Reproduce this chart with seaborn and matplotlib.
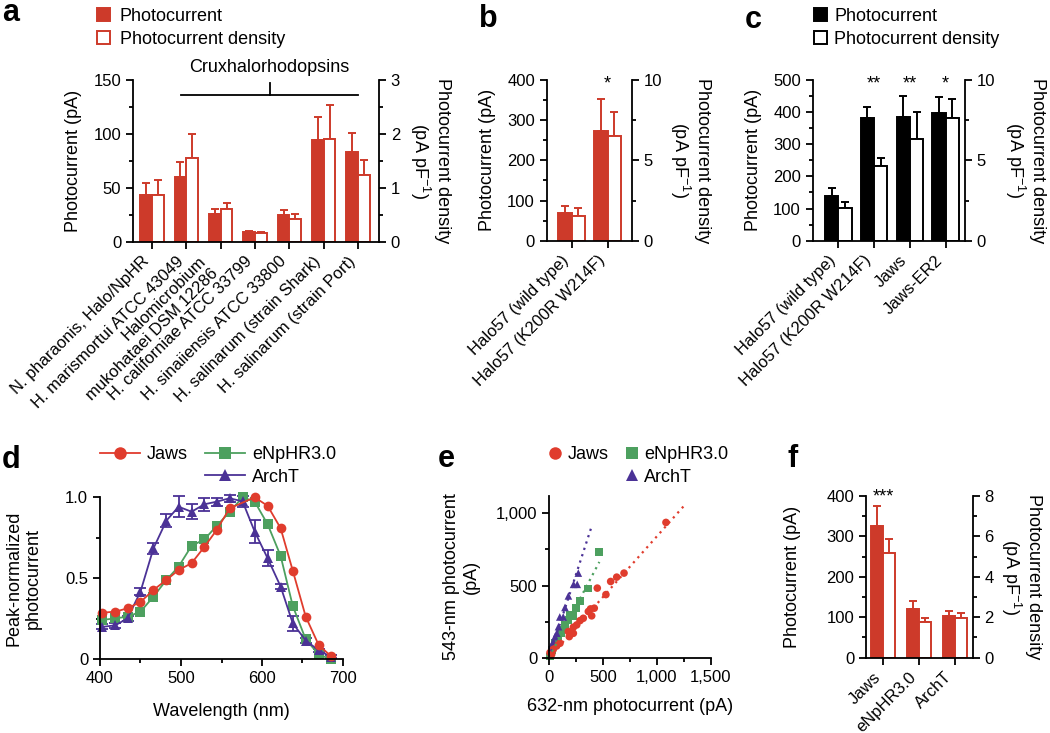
import matplotlib
matplotlib.use("Agg")
import matplotlib.pyplot as plt
from matplotlib.lines import Line2D
from matplotlib.patches import Patch
from matplotlib.ticker import MultipleLocator, FuncFormatter
import numpy as np
import pandas as pd
import seaborn as sns

# ---------------- data ----------------
# a: photocurrent (pA) and photocurrent density (pA/pF), mean and s.e.m.
a_names = ['N. pharaonis, Halo/NpHR', 'H. marismortui ATCC 43049',
           'Halomicrobium\nmukohataei DSM 12286', 'H. californiae ATCC 33799',
           'H. sinaiiensis ATCC 33800', 'H. salinarum (strain Shark)',
           'H. salinarum (strain Port)']
a_current = [43.5, 60, 26, 9.3, 24.7, 94, 83]
a_current_err = [11.5, 14.5, 4.2, 0.7, 4.6, 21.5, 17.5]
a_density = [0.87, 1.55, 0.62, 0.17, 0.42, 1.90, 1.24]
a_density_err = [0.27, 0.45, 0.10, 0.02, 0.10, 0.64, 0.28]
a_bracket = [0.85, 6.0]   # cruxhalorhodopsin group, category units

# b
b_names = ['Halo57 (wild type)', 'Halo57 (K200R W214F)']
b_current = [70, 273]
b_current_err = [17, 79]
b_density = [1.54, 6.5]
b_density_err = [0.49, 1.52]
b_stars = ['', '*']

# c
c_names = ['Halo57 (wild type)', 'Halo57 (K200R W214F)', 'Jaws', 'Jaws-ER2']
c_current = [140, 382, 386, 398]
c_current_err = [25, 33, 63, 50]
c_density = [2.02, 4.66, 6.32, 7.64]
c_density_err = [0.40, 0.50, 1.68, 1.18]
c_stars = ['', '**', '**', '*']

# d: action spectra, peak-normalized (only ArchT error bars stick out of the markers)
d_wavelength = [403, 419, 434, 450, 466, 482, 497, 513, 529, 544, 560, 576, 591, 607, 623, 638, 654, 670, 685]
d_jaws = [0.288, 0.294, 0.315, 0.354, 0.428, 0.49, 0.551, 0.593, 0.695, 0.798, 0.932, np.nan, 1.0, 0.947, 0.809, 0.547, 0.263, 0.088, 0.02]
d_enphr = [0.243, 0.253, 0.263, 0.294, 0.387, 0.49, 0.572, 0.70, 0.741, 0.823, 0.91, 1.0, 0.973, 0.833, 0.638, 0.329, 0.123, 0.03, 0.0]
d_archt = [0.20, 0.21, 0.253, 0.418, 0.685, 0.856, 0.942, 0.911, 0.957, 0.973, 0.994, 0.975, 0.788, 0.623, 0.449, 0.222, 0.116, 0.055, 0.016]
d_archt_err = [0.015, 0.015, 0.015, 0.02, 0.035, 0.04, 0.065, 0.045, 0.04, 0.025, 0.02, 0.035, 0.07, 0.05, 0.015, 0.045, 0.015, 0.01, 0.01]

# e: 543-nm vs 632-nm photocurrent (pA), single cells
e_jaws_632 = [1085, 696, 628, 572, 448, 528, 420, 385, 365, 396, 318, 288, 257, 226, 179, 226, 188, 102, 71, 40, 9, 25]
e_jaws_543 = [937, 586, 558, 528, 482, 437, 343, 338, 320, 290, 273, 257, 227, 211, 181, 169, 146, 100, 81, 58, 35, 23]
e_enphr_632 = [465, 362, 290, 252, 228, 195, 182, 150, 140, 110, 88, 58, 28, 10]
e_enphr_543 = [732, 480, 392, 343, 290, 300, 262, 228, 195, 168, 135, 100, 55, 8]
e_archt_632 = [272, 228, 262, 180, 148, 100, 132, 88, 72, 56, 40, 25, 12]
e_archt_543 = [586, 508, 508, 428, 348, 282, 282, 215, 170, 146, 112, 88, 50]
e_fit_slope = {'Jaws': 0.84, 'eNpHR3.0': 1.42, 'ArchT': 2.3}
e_fit_end = {'Jaws': 1265, 'eNpHR3.0': 467, 'ArchT': 393}

# f
f_names = ['Jaws', 'eNpHR3.0', 'ArchT']
f_current = [326, 120, 103]
f_current_err = [49, 21, 13]
f_density = [5.16, 1.78, 1.94]
f_density_err = [0.70, 0.20, 0.26]
f_stars = ['***', '', '']

# ---------------- style ----------------
RED = '#CD3A2A'
colors = {'Jaws': '#E03C2D', 'eNpHR3.0': '#4DA05F', 'ArchT': '#4B3296'}
markers = {'Jaws': 'o', 'eNpHR3.0': 's', 'ArchT': '^'}

plt.rcParams['font.family'] = ['Liberation Sans', 'DejaVu Sans']
plt.rcParams['mathtext.fontset'] = 'custom'
plt.rcParams['mathtext.rm'] = 'Liberation Sans'
plt.rcParams['mathtext.it'] = 'Liberation Sans:italic'
plt.rcParams['font.size'] = 12
plt.rcParams['axes.labelsize'] = 13
plt.rcParams['xtick.labelsize'] = 12
plt.rcParams['ytick.labelsize'] = 12
plt.rcParams['axes.linewidth'] = 1.3
for k in ['xtick', 'ytick']:
    plt.rcParams[k + '.major.width'] = 1.3
    plt.rcParams[k + '.minor.width'] = 1.3
    plt.rcParams[k + '.major.size'] = 5
    plt.rcParams[k + '.minor.size'] = 3

W, H = 1050, 733
fig = plt.figure(figsize=(W / 100, H / 100), dpi=100)


def rect(left, top, right, bottom):
    return [left / W, 1 - bottom / H, (right - left) / W, (bottom - top) / H]


def bar_panel(box, cats, cur, cur_err, dens, dens_err, cur_max, dens_max,
              cur_step, dens_step, color, xlim, width, ylab_x, rlab_x):
    ax = fig.add_axes(box)
    n = len(cats)
    scale = cur_max / dens_max
    df = pd.DataFrame({
        'cat': list(cats) * 2,
        'kind': ['Photocurrent'] * n + ['Photocurrent density'] * n,
        'value': list(cur) + [d * scale for d in dens],
    })
    sns.barplot(data=df, x='cat', y='value', hue='kind', order=cats,
                hue_order=['Photocurrent', 'Photocurrent density'],
                palette=[color, 'white'], saturation=1, width=width,
                errorbar=None, legend=False, ax=ax,
                edgecolor=color, linewidth=1.4)
    bar_sets = list(ax.containers[:2])
    for bars, err in zip(bar_sets, [cur_err, [e * scale for e in dens_err]]):
        xs = [b.get_x() + b.get_width() / 2 for b in bars]
        ys = [b.get_height() for b in bars]
        ax.errorbar(xs, ys, yerr=[np.zeros(n), err], fmt='none', ecolor=color,
                    elinewidth=1.4, capsize=3, capthick=1.4, zorder=0.5)
    ax.set_xlim(*xlim)
    ax.set_ylim(0, cur_max)
    ax.yaxis.set_major_locator(MultipleLocator(cur_step))
    ax.yaxis.set_minor_locator(MultipleLocator(cur_step / 2))
    ax.set_xticks(range(n))
    ax.set_xticklabels(cats, rotation=45, ha='right')
    ax.set_xlabel('')
    ax.set_ylabel('Photocurrent (pA)')
    ax.yaxis.set_label_coords(ylab_x, 0.5)
    ax.spines[['top', 'right']].set_visible(False)
    ax2 = ax.twinx()
    ax2.set_ylim(0, dens_max)
    ax2.yaxis.set_major_locator(MultipleLocator(dens_step))
    ax2.yaxis.set_minor_locator(MultipleLocator(dens_step / 2))
    ax2.spines[['top', 'left', 'bottom']].set_visible(False)
    ax2.set_ylabel('Photocurrent density\n(pA pF$^{-1}$)', rotation=270, va='bottom',
                   linespacing=1.1)
    ax2.yaxis.set_label_coords(rlab_x, 0.5)
    return ax


def stars(ax, labels, y):
    for i, s in enumerate(labels):
        if s:
            ax.text(i, y, s, transform=ax.get_xaxis_transform(), ha='center',
                    va='baseline', fontsize=13)


# ---------------- a ----------------
ax_a = bar_panel(rect(133, 80, 379, 242), a_names, a_current, a_current_err,
                 a_density, a_density_err, 150, 3, 50, 1, RED, (-0.553, 6.61), 0.68,
                 -0.207, 1.118)
ax_a.plot(a_bracket, [136, 136], color='black', lw=1.3, clip_on=False)
mid = np.mean(a_bracket)
ax_a.plot([mid, mid], [136, 147], color='black', lw=1.3, clip_on=False)
ax_a.text(mid, 157, 'Cruxhalorhodopsins', ha='center', va='baseline', fontsize=13)

# ---------------- b ----------------
ax_b = bar_panel(rect(546.7, 80, 631.7, 240.7), b_names, b_current, b_current_err,
                 b_density, b_density_err, 400, 10, 100, 5, RED, (-0.694, 1.667), 0.74,
                 -0.596, 1.43)
stars(ax_b, b_stars, 0.947)

# ---------------- c ----------------
ax_c = bar_panel(rect(812.7, 80, 965, 240.7), c_names, c_current, c_current_err,
                 c_density, c_density_err, 500, 10, 100, 5, 'black', (-0.715, 3.539), 0.74,
                 -0.333, 1.25)
stars(ax_c, c_stars, 0.947)

# ---------------- f ----------------
ax_f = bar_panel(rect(866, 496, 972.7, 657.7), f_names, f_current, f_current_err,
                 f_density, f_density_err, 400, 8, 100, 2, RED, (-0.483, 2.493), 0.67,
                 -0.609, 1.25)
stars(ax_f, f_stars, 0.969)

# ---------------- d ----------------
ax_d = fig.add_axes(rect(100, 497.3, 343, 659.3))
d_order = ['eNpHR3.0', 'ArchT', 'Jaws']
d_df = pd.concat([
    pd.DataFrame({'wavelength': d_wavelength, 'response': d_enphr, 'opsin': 'eNpHR3.0'}),
    pd.DataFrame({'wavelength': d_wavelength, 'response': d_archt, 'opsin': 'ArchT'}),
    pd.DataFrame({'wavelength': d_wavelength, 'response': d_jaws, 'opsin': 'Jaws'}),
]).dropna()
ax_d.errorbar(d_wavelength, d_archt, yerr=d_archt_err, fmt='none',
              ecolor=colors['ArchT'], elinewidth=1.3, capsize=4, capthick=1.3,
              clip_on=False)
for name in d_order:
    sub = d_df[d_df.opsin == name]
    sns.lineplot(data=sub, x='wavelength', y='response', color=colors[name],
                 marker=markers[name], markersize=7, mew=0, lw=1.3,
                 errorbar=None, legend=False, clip_on=False, ax=ax_d)
ax_d.set_xlim(400, 700)
ax_d.set_ylim(0, 1)
ax_d.xaxis.set_major_locator(MultipleLocator(100))
ax_d.xaxis.set_minor_locator(MultipleLocator(50))
ax_d.yaxis.set_major_locator(MultipleLocator(0.5))
ax_d.yaxis.set_minor_locator(MultipleLocator(0.25))
ax_d.yaxis.set_major_formatter(FuncFormatter(lambda v, p: '0' if v == 0 else f'{v:.1f}'))
ax_d.set_xlabel('Wavelength (nm)')
ax_d.set_ylabel('Peak-normalized\nphotocurrent')
ax_d.xaxis.set_label_coords(0.5, -0.27)
ax_d.yaxis.set_label_coords(-0.239, 0.5)
sns.despine(ax=ax_d)

# ---------------- e ----------------
ax_e = fig.add_axes(rect(549, 496, 710.7, 657.7))
e_df = pd.concat([
    pd.DataFrame({'r632': e_enphr_632, 'r543': e_enphr_543, 'opsin': 'eNpHR3.0'}),
    pd.DataFrame({'r632': e_archt_632, 'r543': e_archt_543, 'opsin': 'ArchT'}),
    pd.DataFrame({'r632': e_jaws_632, 'r543': e_jaws_543, 'opsin': 'Jaws'}),
])
for name in ['ArchT', 'eNpHR3.0', 'Jaws']:
    xs = np.array([0, e_fit_end[name]])
    ax_e.plot(xs, e_fit_slope[name] * xs, ls=(0, (1, 2)), lw=1.6, color=colors[name])
sns.scatterplot(data=e_df, x='r632', y='r543', hue='opsin', style='opsin',
                palette=colors, markers=markers, s=30, linewidth=0,
                legend=False, clip_on=False, ax=ax_e)
ax_e.set_xlim(0, 1500)
ax_e.set_ylim(0, 1120)
ax_e.xaxis.set_major_locator(MultipleLocator(500))
ax_e.xaxis.set_minor_locator(MultipleLocator(250))
ax_e.yaxis.set_major_locator(MultipleLocator(500))
ax_e.yaxis.set_minor_locator(MultipleLocator(250))
comma = FuncFormatter(lambda v, p: f'{v:,.0f}')
ax_e.xaxis.set_major_formatter(comma)
ax_e.yaxis.set_major_formatter(comma)
ax_e.set_xlabel('632-nm photocurrent (pA)')
ax_e.set_ylabel('543-nm photocurrent\n(pA)')
ax_e.xaxis.set_label_coords(0.5, -0.249)
ax_e.yaxis.set_label_coords(-0.427, 0.5)
sns.despine(ax=ax_e)

# ---------------- legends ----------------
leg_kw = dict(loc='upper left', frameon=False, fontsize=13, borderpad=0,
              borderaxespad=0, labelspacing=0.32)
fig.legend([Patch(fc=RED, ec=RED, lw=1.4), Patch(fc='white', ec=RED, lw=1.4)],
           ['Photocurrent', 'Photocurrent density'], bbox_to_anchor=(97 / W, 1 - 8 / H),
           handlelength=0.72, handleheight=0.72, handletextpad=0.55, **leg_kw)
fig.legend([Patch(fc='black', ec='black', lw=1.4), Patch(fc='white', ec='black', lw=1.4)],
           ['Photocurrent', 'Photocurrent density'], bbox_to_anchor=(814 / W, 1 - 8 / H),
           handlelength=0.72, handleheight=0.72, handletextpad=0.4, **leg_kw)

blank = Line2D([], [], ls='none')
dh = {k: Line2D([], [], color=colors[k], marker=markers[k], markersize=9, mew=0, lw=1.3)
      for k in colors}
fig.legend([dh['Jaws'], blank, dh['eNpHR3.0'], dh['ArchT']],
           ['Jaws', '', 'eNpHR3.0', 'ArchT'], ncol=2, bbox_to_anchor=(100 / W, 1 - 446 / H),
           handlelength=2.2, handletextpad=0.4, columnspacing=0.95, **leg_kw)
eh = {k: Line2D([], [], color=colors[k], marker=markers[k], markersize=9, mew=0, ls='none')
      for k in colors}
fig.legend([eh['Jaws'], blank, eh['eNpHR3.0'], eh['ArchT']],
           ['Jaws', '', 'eNpHR3.0', 'ArchT'], ncol=2, bbox_to_anchor=(548 / W, 1 - 446 / H),
           handlelength=0.8, handletextpad=0.3, columnspacing=0.86, **leg_kw)

# ---------------- panel letters ----------------
for letter, x, y in [('a', 2, 21), ('b', 479, 26.7), ('c', 745, 28.3),
                     ('d', 2, 468), ('e', 438, 467), ('f', 787, 467)]:
    fig.text(x / W, 1 - y / H, letter, fontsize=22, fontweight='bold',
             ha='left', va='baseline')

fig.savefig('out.png', dpi=100)
